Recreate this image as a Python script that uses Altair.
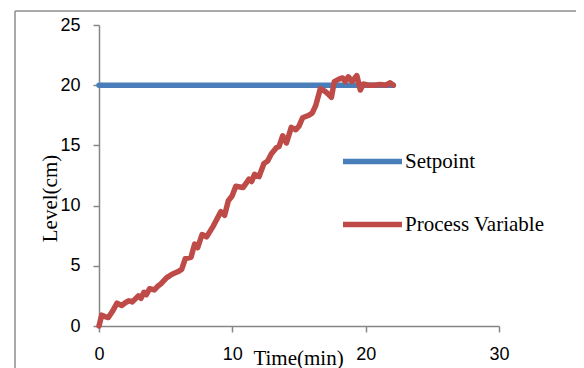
import altair as alt
import pandas as pd

# Time (min) and level (cm) of the process variable
pv_time = [0, 0.2, 0.4, 0.7, 1.0, 1.35, 1.7, 2.0, 2.25, 2.5, 2.95, 3.15, 3.37, 3.55,
           3.8, 4.15, 4.4, 4.64, 5.06, 5.48, 5.9, 6.2, 6.47, 6.9, 7.17, 7.4, 7.73,
           8.07, 8.57, 9.14, 9.42, 9.7, 9.98, 10.26, 10.8, 11.25, 11.45, 11.67, 12.0,
           12.37, 12.65, 12.93, 13.3, 13.5, 13.78, 14.06, 14.42, 14.76, 15.0, 15.27,
           15.74, 16.0, 16.25, 16.6, 16.95, 17.15, 17.43, 17.65, 18.0, 18.27, 18.47,
           18.7, 18.98, 19.34, 19.6, 19.82, 20.2, 20.66, 21.1, 21.5, 21.84, 22.07]
pv_level = [0, 0.9, 0.8, 0.7, 1.2, 1.9, 1.7, 1.95, 2.1, 2.0, 2.5, 2.3, 2.8, 2.6,
            3.1, 3.0, 3.3, 3.5, 4.0, 4.3, 4.5, 4.7, 5.6, 5.7, 6.8, 6.5, 7.6,
            7.4, 8.3, 9.5, 9.2, 10.4, 10.8, 11.6, 11.5, 12.2, 12.0, 12.6, 12.4,
            13.5, 13.7, 14.3, 14.8, 14.9, 15.8, 15.2, 16.5, 16.3, 16.6, 17.3,
            17.5, 17.7, 18.3, 19.7, 19.5, 19.3, 19.0, 20.3, 20.5, 20.6, 20.3,
            20.7, 20.3, 20.8, 19.6, 20.1, 20.0, 20.0, 20.05, 20.0, 20.2, 20.0]
sp_time = [0, 22.07]
sp_level = [20, 20]

series = ["Setpoint", "Process Variable"]
colors = ["#4A7EBB", "#BE4B48"]
x_ticks = [0, 10, 20, 30]
y_ticks = [0, 5, 10, 15, 20, 25]

assert len(pv_time) == len(pv_level)

rows = []
for i, (t, v) in enumerate(zip(sp_time, sp_level)):
    rows.append({"time": t, "level": v, "series": "Setpoint", "order": i})
for i, (t, v) in enumerate(zip(pv_time, pv_level)):
    rows.append({"time": t, "level": v, "series": "Process Variable", "order": i})
df = pd.DataFrame(rows)

axis_color = "#868686"

lines = alt.Chart(df).mark_line(strokeWidth=5.5, strokeJoin="round", strokeCap="round").encode(
    x=alt.X("time:Q", scale=alt.Scale(domain=[0, 30], nice=False),
            axis=alt.Axis(values=x_ticks, title="Time(min)", titleX=199, titleY=38,
                          titleBaseline="alphabetic", labelFlush=False)),
    y=alt.Y("level:Q", scale=alt.Scale(domain=[0, 25], nice=False),
            axis=alt.Axis(values=y_ticks, title="Level(cm)", titleX=-43, titleY=173,
                          titleAngle=-90, titleBaseline="alphabetic", titleAlign="center",
                          labelFlush=False)),
    color=alt.Color("series:N", scale=alt.Scale(domain=series, range=colors),
                    sort=series,
                    legend=alt.Legend(title=None, orient="none", legendX=241, legendY=104,
                                      symbolType="stroke", symbolSize=3481,
                                      symbolStrokeWidth=5.5, labelFont="Liberation Serif",
                                      labelFontSize=21, labelColor="#000000",
                                      labelOffset=0, rowPadding=19, padding=0,
                                      labelLimit=300)),
    detail="series:N",
    order="order:Q",
)

one = pd.DataFrame({"a": [0]})
frame_style = dict(stroke="#8c8c8c", strokeWidth=1.5)
left_edge = alt.Chart(one).mark_rule(**frame_style).encode(
    x=alt.value(-84), y=alt.value(-14), y2=alt.value(400))
top_edge = alt.Chart(one).mark_rule(**frame_style).encode(
    x=alt.value(-84), x2=alt.value(479), y=alt.value(-14))
right_edge = alt.Chart(one).mark_rule(**frame_style).encode(
    x=alt.value(479), y=alt.value(-14), y2=alt.value(400))

chart = alt.layer(left_edge, top_edge, right_edge, lines).properties(
    width=400, height=301,
    padding={"left": 91, "top": 17, "right": 77, "bottom": 42},
    autosize=alt.AutoSizeParams(type="none"),
).configure_view(stroke=None).configure_axis(
    domainColor=axis_color, domainWidth=1.5, tickColor=axis_color, tickWidth=1.5,
    tickSize=6, grid=False, labelFont="Liberation Sans", labelFontSize=18,
    labelColor="#000000", labelPadding=13, titleFont="Liberation Serif",
    titleFontSize=21, titleFontWeight="normal", titleColor="#000000",
)

chart.save("out.html", embed_options={"renderer": "svg", "actions": False})
